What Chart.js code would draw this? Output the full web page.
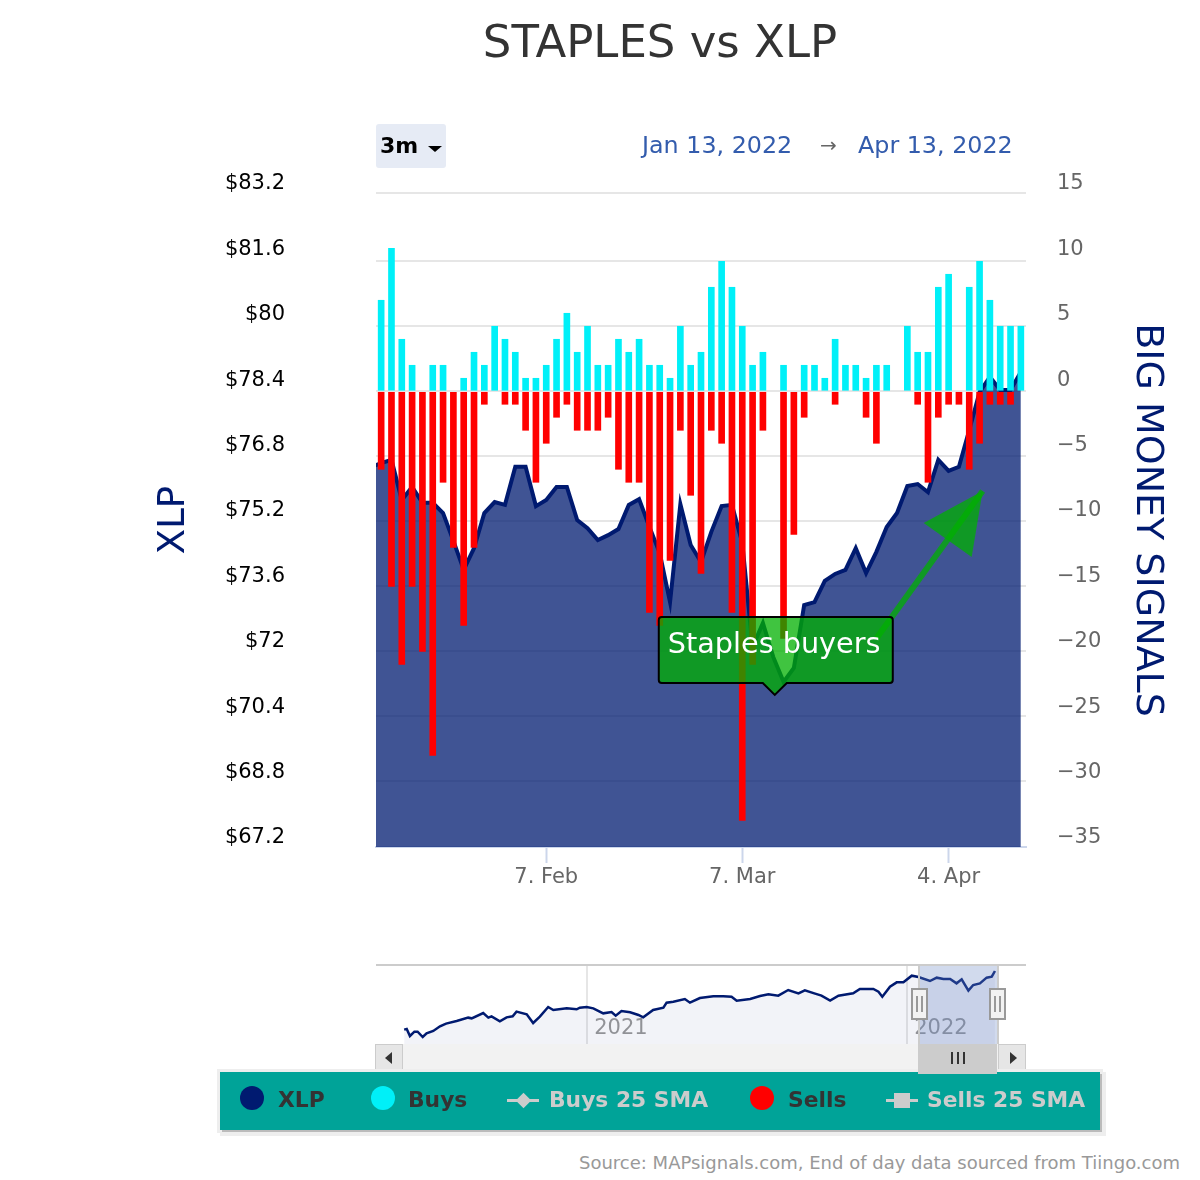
<!DOCTYPE html>
<html>
<head>
<meta charset="utf-8">
<title>STAPLES vs XLP</title>
<script src="https://cdn.jsdelivr.net/npm/chart.js@4/dist/chart.umd.js"></script>
<style>
  html, body { margin: 0; padding: 0; background: #fff; }
  body { font-family: "DejaVu Sans", sans-serif; }
  #page { position: relative; width: 1200px; height: 1180px; overflow: hidden; }
  #page canvas { position: absolute; left: 0; }
  .abs { position: absolute; white-space: nowrap; }
  #title { left: 360px; width: 600px; top: 12px; text-align: center; font-size: 45px; color: #333; line-height: 60px; }
  #range-btn { left: 376px; top: 124px; width: 70px; height: 44px; background: #e6ebf5; border-radius: 3px; }
  #range-txt { left: 380px; top: 132px; font-size: 22px; font-weight: bold; color: #000; line-height: 28px; }
  #range-caret { left: 428px; top: 146px; width: 0; height: 0; border-left: 7px solid transparent; border-right: 7px solid transparent; border-top: 6px solid #000; }
  .date { top: 131px; font-size: 23.8px; line-height: 28px; color: #335cad; }
  #arrow { left: 820px; top: 131px; font-size: 20px; line-height: 28px; color: #666; }
  #nav-top { left: 376px; top: 964px; width: 650px; height: 2px; background: #ccc; }
  #mask { left: 918px; top: 966px; width: 77px; height: 78px; background: rgba(102,133,194,.3); border-left: 2px solid #ccc; border-right: 2px solid #ccc; }
  .handle { top: 988px; width: 13px; height: 28px; background: #f2f2f2; border: 2px solid #999; }
  .handle::before, .handle::after { content: ""; position: absolute; top: 6px; height: 16px; width: 2px; background: #999; }
  .handle::before { left: 3px; }
  .handle::after { left: 8px; }
  #track { left: 376px; top: 1044px; width: 650px; height: 28px; background: #f2f2f2; }
  .sbtn { top: 1044px; width: 26px; height: 27px; background: #e6e6e6; border: 1px solid #ccc; }
  .tri { top: 1052px; width: 0; height: 0; border-top: 6px solid transparent; border-bottom: 6px solid transparent; }
  #thumb { left: 918px; top: 1044px; width: 77px; height: 28px; background: #ccc; border: 1px solid #ccc; z-index: 2; }
  .grip { top: 1052px; width: 2px; height: 12px; background: #333; z-index: 3; }
  #legend { left: 220px; top: 1072px; width: 880px; height: 58px; background: #00a398; box-shadow: 2px 2px 0 #bbb, 0 0 0 3px #eee, 3px 3px 0 3px #eee; }
  .dot { top: 1086px; width: 24px; height: 24px; border-radius: 50%; }
  .ltxt { top: 1086px; font-size: 21.8px; font-weight: bold; line-height: 28px; color: #333; }
  .ltxt.off { color: #ccc; }
  .sym { top: 1099px; width: 32px; height: 3px; background: #ccc; }
  #sym-d { left: 518px; top: 1095px; width: 11px; height: 11px; background: #ccc; transform: rotate(45deg); }
  #sym-s { left: 894px; top: 1093px; width: 16px; height: 15px; background: #ccc; }
  #source { right: 20px; top: 1152px; font-size: 18px; line-height: 22px; color: #999; }
</style>
</head>
<body>
<div id="page">
  <canvas id="main-chart" width="1200" height="930" style="top:0"></canvas>
  <canvas id="nav-chart" width="1200" height="90" style="top:960px"></canvas>

  <div class="abs" id="title">STAPLES vs XLP</div>
  <div class="abs" id="range-btn"></div>
  <div class="abs" id="range-txt">3m</div>
  <div class="abs" id="range-caret"></div>
  <div class="abs date" style="left:642px">Jan 13, 2022</div>
  <div class="abs" id="arrow">→</div>
  <div class="abs date" style="left:858px">Apr 13, 2022</div>

  <div class="abs" id="nav-top"></div>
  <div class="abs" id="track"></div>
  <div class="abs" id="mask"></div>
  <div class="abs handle" style="left:911px"></div>
  <div class="abs handle" style="left:989px"></div>
  <div class="abs sbtn" style="left:375px"></div>
  <div class="abs tri" style="left:385px;border-right:7px solid #333"></div>
  <div class="abs sbtn" style="left:998px"></div>
  <div class="abs tri" style="left:1010px;border-left:7px solid #333"></div>
  <div class="abs" id="thumb"></div>
  <div class="abs grip" style="left:951px"></div>
  <div class="abs grip" style="left:957px"></div>
  <div class="abs grip" style="left:963px"></div>

  <div class="abs" id="legend"></div>
  <div class="abs dot" style="left:240px;background:#001a70"></div>
  <div class="abs ltxt" style="left:278px">XLP</div>
  <div class="abs dot" style="left:371px;background:#00f0f8"></div>
  <div class="abs ltxt" style="left:408px">Buys</div>
  <div class="abs sym" style="left:507px"></div>
  <div class="abs" id="sym-d"></div>
  <div class="abs ltxt off" style="left:549px">Buys 25 SMA</div>
  <div class="abs dot" style="left:750px;background:#ff0000"></div>
  <div class="abs ltxt" style="left:788px">Sells</div>
  <div class="abs sym" style="left:886px"></div>
  <div class="abs" id="sym-s"></div>
  <div class="abs ltxt off" style="left:927px">Sells 25 SMA</div>

  <div class="abs" id="source">Source: MAPsignals.com, End of day data sourced from Tiingo.com</div>
</div>

<script>
// trading days are plotted by index, Jan 13 2022 = 0
const dateTicks = [16, 35, 55];
const dateLabels = ["7. Feb", "7. Mar", "4. Apr"];

const priceTicks = [83.2, 81.6, 80, 78.4, 76.8, 75.2, 73.6, 72, 70.4, 68.8, 67.2];
const signalTicks = [15, 10, 5, 0, -5, -10, -15, -20, -25, -30, -35];
// the gridlines sit a little off the labels in the original
const gridTicks = [15.25, 10, 5, 0, -5, -10, -15, -20, -25, -30, -35.05];

// first price is the day before the window, clipped by the left edge
const xlp = [
  76.5, 76.59, 76.67, 75.69, 76.01, 75.62, 75.62, 75.37, 74.69, 73.98, 74.51,
  75.37, 75.64, 75.57, 76.5, 76.5, 75.54, 75.69, 76.01, 76.01, 75.2,
  75.0, 74.71, 74.83, 74.98, 75.57, 75.71, 75.03, 74.39, 73.19, 75.59,
  74.59, 74.17, 74.91, 75.54, 75.57, 74.64, 72.09, 72.68, 71.85, 71.24,
  71.58, 73.12, 73.19, 73.71, 73.88, 73.98, 74.51, 73.9, 74.42, 75.03,
  75.37, 76.03, 76.08, 75.88, 76.67, 76.4, 76.5, 77.4, 78.33, 78.7,
  78.38, 78.38, 78.82
];
const buys = [
  7, 11, 4, 2, 0, 2, 2, 0, 1, 3, 2, 5, 4, 3, 1, 1, 2, 4, 6, 3, 5,
  2, 2, 4, 3, 4, 2, 2, 1, 5, 2, 3, 8, 10, 8, 5, 2, 3, 0, 2, 0, 2,
  2, 1, 4, 2, 2, 1, 2, 2, 0, 5, 3, 3, 8, 9, 0, 8, 10, 7, 5, 5, 5
];
const sells = [
  -6, -15, -21, -15, -20, -28, -7, -12, -18, -12, -1, 0, -1, -1, -3, -7, -4, -2, -1, -3, -3,
  -3, -2, -6, -7, -7, -17, -18, -13, -3, -8, -14, -3, -4, -17, -33, -21, -3, 0, -19, -11, -2,
  0, 0, -1, 0, 0, -2, -4, 0, 0, 0, -1, -7, -2, -1, -1, -6, -4, -1, -1, -1, 0
];

// navigator: whole history, date as decimal year
const navYears = [
  2020.429, 2020.437, 2020.447, 2020.461, 2020.471, 2020.487, 2020.499, 2020.52, 2020.541, 2020.56,
  2020.593, 2020.629, 2020.64, 2020.676, 2020.692, 2020.702, 2020.728, 2020.749, 2020.768, 2020.78,
  2020.812, 2020.832, 2020.853, 2020.879, 2020.895, 2020.937, 2020.968, 2020.978, 2020.999, 2021.02,
  2021.051, 2021.077, 2021.09, 2021.108, 2021.135, 2021.161, 2021.176, 2021.207, 2021.239, 2021.249,
  2021.27, 2021.306, 2021.322, 2021.353, 2021.395, 2021.426, 2021.452, 2021.468, 2021.51, 2021.541,
  2021.567, 2021.598, 2021.629, 2021.661, 2021.681, 2021.713, 2021.733, 2021.76, 2021.786, 2021.832,
  2021.853, 2021.895, 2021.911, 2021.923, 2021.947, 2021.968, 2021.989, 2022.015, 2022.036, 2022.072,
  2022.093, 2022.114, 2022.135, 2022.155, 2022.171, 2022.192, 2022.207, 2022.228, 2022.249, 2022.265,
  2022.275
];
const navPrices = [
  56.87, 57.12, 54.46, 56.11, 56.11, 54.08, 55.47, 56.36, 58.13, 59.15,
  60.16, 61.43, 61.17, 63.2, 61.43, 61.93, 60.03, 61.55, 61.93, 63.71,
  62.69, 59.4, 61.81, 65.48, 64.34, 64.97, 64.59, 65.23, 65.48, 64.97,
  63.07, 63.58, 62.19, 63.96, 63.45, 62.44, 61.55, 64.34, 65.23, 67.13,
  67.51, 68.52, 67.13, 68.9, 69.53, 69.53, 69.41, 67.89, 68.52, 69.66,
  70.29, 69.79, 71.94, 70.67, 71.81, 70.55, 69.79, 67.89, 69.79, 70.67,
  72.32, 72.32, 71.31, 69.41, 73.21, 74.85, 74.85, 77.39, 76.88, 75.36,
  76.63, 76.12, 76.12, 74.47, 75.99, 71.69, 73.84, 74.47, 76.63, 77.0,
  79.16
];
const navYearTicks = [2021, 2022];

const NAVY = "#001a70";
const AREA = "rgba(0, 27, 112, 0.75)";
const GREEN = "rgba(0, 176, 0, 0.75)";
const FONT = '"DejaVu Sans", sans-serif';

function setTicks(list) {
  return (axis) => {
    axis.ticks = list.map((value) => ({ value }));
  };
}

// pin the side width, and stop the label overhang from shrinking the plot
function fixWidth(width) {
  return (axis) => {
    axis.width = width;
    axis.paddingTop = 0;
    axis.paddingBottom = 0;
  };
}

// callout and arrow, anchored on the data scales
const calloutPlugin = {
  id: "callout",
  afterDatasetsDraw(chart) {
    const { ctx, scales } = chart;
    const tipX = scales.x.getPixelForValue(38.15);
    const tipY = scales.yPrice.getPixelForValue(70.92);
    const endX = scales.x.getPixelForValue(58.3);
    const endY = scales.yPrice.getPixelForValue(75.91);

    ctx.save();
    // arrow
    ctx.strokeStyle = GREEN;
    ctx.lineWidth = 6;
    ctx.beginPath();
    ctx.moveTo(endX - 106, endY + 147);
    ctx.lineTo(endX, endY);
    ctx.stroke();
    ctx.fillStyle = GREEN;
    ctx.beginPath();
    ctx.moveTo(endX, endY);
    ctx.lineTo(endX - 59, endY + 32);
    ctx.lineTo(endX - 11, endY + 66);
    ctx.closePath();
    ctx.fill();

    // box with pointer
    const left = tipX - 116, right = tipX + 118, top = tipY - 78, bottom = tipY - 12, r = 3;
    ctx.beginPath();
    ctx.moveTo(left + r, top);
    ctx.lineTo(right - r, top);
    ctx.arcTo(right, top, right, top + r, r);
    ctx.lineTo(right, bottom - r);
    ctx.arcTo(right, bottom, right - r, bottom, r);
    ctx.lineTo(tipX + 12, bottom);
    ctx.lineTo(tipX, tipY);
    ctx.lineTo(tipX - 12, bottom);
    ctx.lineTo(left + r, bottom);
    ctx.arcTo(left, bottom, left, bottom - r, r);
    ctx.lineTo(left, top + r);
    ctx.arcTo(left, top, left + r, top, r);
    ctx.closePath();
    ctx.fillStyle = GREEN;
    ctx.fill();
    ctx.strokeStyle = "#000";
    ctx.lineWidth = 2;
    ctx.stroke();

    ctx.fillStyle = "#fff";
    ctx.font = `28.7px ${FONT}`;
    ctx.textBaseline = "middle";
    ctx.textAlign = "left";
    ctx.fillText("Staples buyers", left + 9, top + 29);
    ctx.restore();
  },
};

function setupMainChart() {
  const points = (list, start) => list.map((y, i) => ({ x: i + start, y }));
  // a zero count draws no bar at all
  const barPoints = (list) => list.map((y, i) => ({ x: i, y: y === 0 ? null : y }));

  new Chart(document.getElementById("main-chart"), {
    type: "bar",
    plugins: [calloutPlugin],
    data: {
      datasets: [
        {
          type: "line",
          label: "XLP",
          data: points(xlp, -1),
          yAxisID: "yPrice",
          borderColor: NAVY,
          backgroundColor: AREA,
          borderWidth: 4,
          pointRadius: 0,
          tension: 0,
          fill: "start",
          order: 3,
        },
        {
          label: "Buys",
          data: barPoints(buys),
          yAxisID: "ySignals",
          backgroundColor: "#00f0f8",
          barThickness: 6,
          grouped: false,
          order: 2,
        },
        {
          label: "Sells",
          data: barPoints(sells),
          yAxisID: "ySignals",
          backgroundColor: "#ff0000",
          barThickness: 6,
          grouped: false,
          order: 1,
        },
      ],
    },
    options: {
      responsive: false,
      animation: false,
      layout: { padding: { top: 193 } },
      plugins: { legend: { display: false }, tooltip: { enabled: false } },
      scales: {
        x: {
          type: "linear",
          offset: false,
          min: -0.5,
          max: 62.5,
          afterBuildTicks: setTicks(dateTicks),
          afterFit: (axis) => { axis.height = 83; },
          grid: { drawOnChartArea: false, tickLength: 16, tickColor: "#ccd6eb", tickWidth: 2, offset: false },
          border: { color: "#ccd6eb", width: 2 },
          ticks: {
            color: "#666",
            font: { family: FONT, size: 21 },
            padding: 2,
            labelOffset: 0,
            maxRotation: 0,
            autoSkip: false,
            callback: (value) => dateLabels[dateTicks.indexOf(value)],
          },
        },
        yPrice: {
          type: "linear",
          position: "left",
          min: 67.2,
          max: 83.2,
          afterBuildTicks: setTicks(priceTicks),
          afterFit: fixWidth(376),
          grid: { display: false },
          border: { display: false },
          title: {
            display: true,
            text: "XLP",
            color: NAVY,
            font: { family: FONT, size: 37 },
            padding: { top: 152, bottom: 0 },
          },
          ticks: {
            color: "#000",
            font: { family: FONT, size: 21 },
            padding: 83,
            labelOffset: -9,
            autoSkip: false,
            callback: (value) => "$" + value,
          },
        },
        ySignals: {
          type: "linear",
          position: "right",
          min: -35.05,
          max: 15.25,
          afterBuildTicks: setTicks(gridTicks),
          afterFit: fixWidth(0),
          grid: { color: "#e6e6e6", lineWidth: 2, drawTicks: false },
          border: { display: false },
          ticks: { display: false, autoSkip: false },
        },
        ySignalLabels: {
          type: "linear",
          position: "right",
          min: -35,
          max: 15,
          afterBuildTicks: setTicks(signalTicks),
          afterFit: fixWidth(174),
          grid: { display: false },
          border: { display: false },
          title: {
            display: true,
            text: "BIG MONEY SIGNALS",
            color: NAVY,
            font: { family: FONT, size: 38 },
            padding: { top: 30, bottom: 0 },
          },
          ticks: {
            color: "#666",
            font: { family: FONT, size: 21 },
            padding: 23,
            labelOffset: -9,
            autoSkip: false,
            callback: (value) => String(value).replace("-", "\u2212"),
          },
        },
      },
    },
  });
}

function setupNavChart() {
  new Chart(document.getElementById("nav-chart"), {
    type: "line",
    data: {
      datasets: [
        {
          data: navYears.map((x, i) => ({ x, y: navPrices[i] })),
          borderColor: NAVY,
          backgroundColor: "rgba(0, 26, 112, 0.05)",
          borderWidth: 2.5,
          pointRadius: 0,
          tension: 0,
          fill: "start",
        },
      ],
    },
    options: {
      responsive: false,
      animation: false,
      layout: { padding: { left: 376, right: 174, top: 5, bottom: 6 } },
      plugins: { legend: { display: false }, tooltip: { enabled: false } },
      scales: {
        x: {
          type: "linear",
          min: 2020.341,
          max: 2022.372,
          afterBuildTicks: setTicks(navYearTicks),
          afterFit: (axis) => { axis.height = 0; },
          grid: { color: "#e6e6e6", lineWidth: 2, drawTicks: false },
          border: { display: false },
          ticks: {
            color: "#999",
            font: { family: FONT, size: 21 },
            // mirror keeps the labels inside the plot, otherwise they get clipped
            mirror: true,
            padding: 3,
            labelOffset: 34,
            maxRotation: 0,
            autoSkip: false,
            callback: (value) => String(value),
          },
        },
        y: { display: false, min: 51.42, max: 81.44 },
      },
    },
  });
}

setupMainChart();
setupNavChart();
</script>
</body>
</html>
